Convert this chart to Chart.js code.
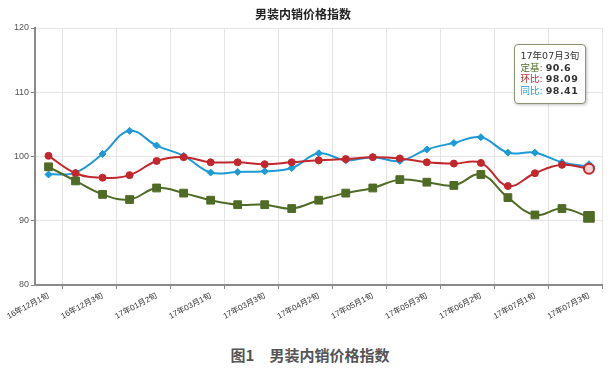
<!DOCTYPE html>
<html>
<head>
<meta charset="utf-8">
<script src="https://cdn.jsdelivr.net/npm/chart.js@4/dist/chart.umd.min.js"></script>
<style>
  body { margin: 0; background: #fff; }
  .wrap { position: relative; width: 611px; height: 371px; }
  #tip {
    position: absolute; background: #fff; border: 1px solid #8d9474; border-radius: 4px;
    box-shadow: 1px 1px 3px rgba(0,0,0,0.25); padding: 5px 6px 7px 6px; opacity: 0;
    font: 9.5px "DejaVu Sans", "Noto Sans CJK SC", sans-serif; color: #333; line-height: 11.5px; white-space: nowrap;
  }
  #tip b { font-weight: bold; letter-spacing: 0.5px; }
  .caption {
    position: absolute; left: 0; top: 345px; width: 620px; text-align: center;
    font: bold 15px "Noto Sans CJK SC", sans-serif; color: #555; line-height: 20px;
  }
</style>
</head>
<body>
<div class="wrap">
  <canvas id="myChart" width="611" height="330"></canvas>
  <div id="tip"></div>
  <div class="caption">图1　男装内销价格指数</div>
</div>
<script>
const periods = [
  "16年12月1旬", "16年12月2旬", "16年12月3旬", "17年01月1旬", "17年01月2旬", "17年01月3旬",
  "17年03月1旬", "17年03月2旬", "17年03月3旬", "17年04月1旬", "17年04月2旬", "17年04月3旬",
  "17年05月1旬", "17年05月2旬", "17年05月3旬", "17年06月1旬", "17年06月2旬", "17年06月3旬",
  "17年07月1旬", "17年07月2旬", "17年07月3旬"
];
const dingji = [98.4, 96.2, 94.1, 93.3, 95.1, 94.3, 93.2, 92.5, 92.5, 91.9, 93.2, 94.3, 95.1, 96.4, 96.0, 95.5, 97.2, 93.6, 90.9, 91.9, 90.6];
const huanbi = [100.1, 97.4, 96.7, 97.1, 99.3, 99.9, 99.1, 99.1, 98.8, 99.1, 99.4, 99.6, 99.9, 99.7, 99.1, 98.9, 99.0, 95.4, 97.4, 98.7, 98.09];
const tongbi = [97.2, 97.5, 100.4, 104.0, 101.7, 100.1, 97.5, 97.6, 97.7, 98.2, 100.5, 99.4, 99.9, 99.3, 101.1, 102.1, 103.0, 100.6, 100.6, 99.1, 98.41];
const yTicks = [80, 90, 100, 110, 120];

const colors = { dingji: "#4f6b26", huanbi: "#c1272d", tongbi: "#1c9ad6" };
const tipEl = document.getElementById("tip");

function externalTip(context) {
  const { chart, tooltip } = context;
  if (tooltip.opacity === 0) { tipEl.style.opacity = 0; return; }
  let html = `<div>${tooltip.title[0]}</div>`;
  tooltip.dataPoints.forEach((p) => {
    html += `<div><span style="color:${p.dataset.borderColor}">${p.dataset.label}:</span> <b>${p.raw}</b></div>`;
  });
  tipEl.innerHTML = html;
  tipEl.style.left = (chart.chartArea.right - 89) + "px";
  tipEl.style.top = (chart.chartArea.top + 16) + "px";
  tipEl.style.opacity = 1;
}

const gridOdd = (ctx) => (ctx.index === undefined || ctx.index % 2 === 1) ? "#e4e4e4" : "rgba(0,0,0,0)";
const tickOdd = (ctx) => (ctx.index === undefined || ctx.index % 2 === 1) ? "#888" : "rgba(0,0,0,0)";

const chart = new Chart(document.getElementById("myChart"), {
  type: "line",
  data: {
    labels: periods,
    datasets: [
      {
        label: "定基",
        data: dingji,
        borderColor: colors.dingji,
        backgroundColor: colors.dingji,
        pointStyle: "rect",
        pointRadius: 5.5,
        pointHoverRadius: 7.5,
        pointHoverBackgroundColor: colors.dingji,
        pointHoverBorderColor: colors.dingji,
      },
      {
        label: "环比",
        data: huanbi,
        borderColor: colors.huanbi,
        backgroundColor: colors.huanbi,
        pointStyle: "circle",
        pointRadius: 3.5,
        pointHoverRadius: 5,
        pointHoverBackgroundColor: "#f4d3d4",
        pointHoverBorderColor: colors.huanbi,
        pointHoverBorderWidth: 2,
      },
      {
        label: "同比",
        data: tongbi,
        borderColor: colors.tongbi,
        backgroundColor: colors.tongbi,
        pointStyle: "rectRot",
        pointRadius: 3.5,
        pointHoverRadius: 6,
        pointHoverBackgroundColor: colors.tongbi,
        pointHoverBorderColor: colors.tongbi,
      },
    ],
  },
  options: {
    responsive: false,
    animation: false,
    layout: { padding: { right: 5, left: 0, bottom: 0, top: 0 } },
    elements: {
      line: { borderWidth: 2, tension: 0.4, fill: false },
      point: { borderWidth: 1 },
    },
    interaction: { mode: "index", intersect: false },
    plugins: {
      legend: { display: false },
      title: {
        display: true,
        text: "男装内销价格指数",
        color: "#222",
        font: { family: "'Noto Sans CJK SC', sans-serif", size: 12, weight: "bold" },
        padding: { top: 7, bottom: 6.6 },
      },
      tooltip: { enabled: false, external: externalTip },
    },
    scales: {
      x: {
        offset: true,
        border: { color: "#8a8a8a", width: 2 },
        grid: { offset: true, color: gridOdd, tickColor: tickOdd, tickLength: 4 },
        ticks: {
          autoSkip: false,
          minRotation: 28,
          maxRotation: 28,
          padding: 2,
          color: "#333",
          font: { family: "'Liberation Sans', 'Noto Sans CJK SC', sans-serif", size: 8 },
          callback: function (v, i) { return i % 2 === 0 ? this.getLabelForValue(v) : ""; },
        },
        afterFit: (scale) => { scale.height = 45; },
      },
      y: {
        min: 80,
        max: 120,
        border: { color: "#8a8a8a", width: 2 },
        grid: { color: "#e6e6e6", tickColor: "#888", tickLength: 4 },
        afterBuildTicks: (scale) => { scale.ticks = yTicks.map((v) => ({ value: v })); },
        ticks: {
          color: "#555",
          padding: 2,
          font: { family: "'Liberation Sans', sans-serif", size: 9 },
        },
        afterFit: (scale) => { scale.width = 35; },
      },
    },
  },
});

const last = periods.length - 1;
const active = chart.data.datasets.map((d, i) => ({ datasetIndex: i, index: last }));
chart.setActiveElements(active);
chart.tooltip.setActiveElements(active, { x: 0, y: 0 });
chart.update();
</script>
</body>
</html>
